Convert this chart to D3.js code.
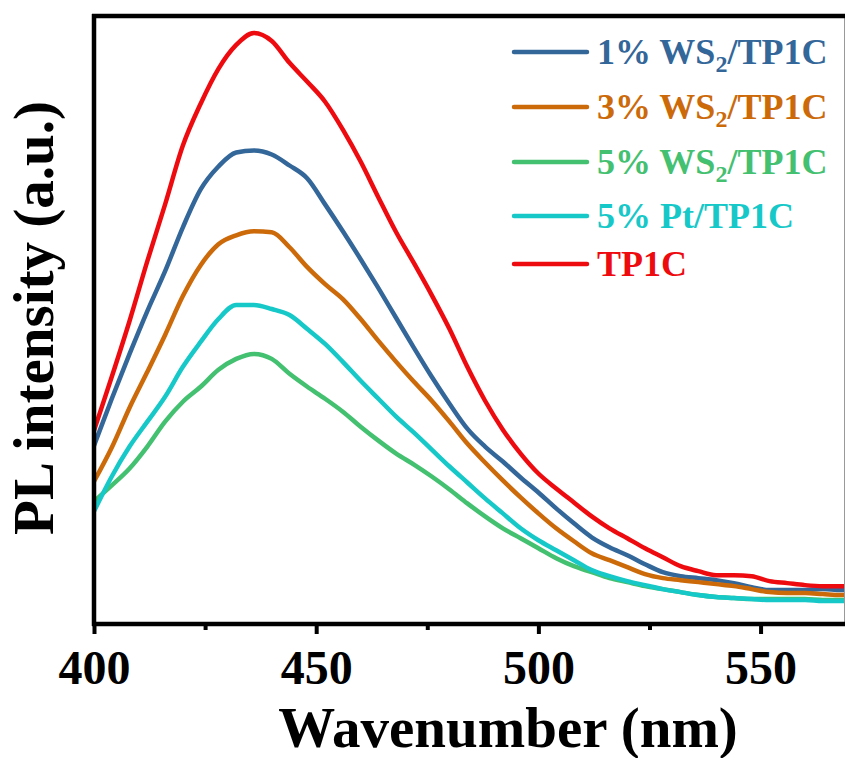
<!DOCTYPE html>
<html>
<head>
<meta charset="utf-8">
<script src="https://cdn.jsdelivr.net/npm/d3@7"></script>
<style>
  html, body { margin: 0; padding: 0; background: #fff; }
  svg { display: block; }
  text { font-family: "Liberation Serif", "Times New Roman", serif; font-weight: bold; }
</style>
</head>
<body>
<div id="chart"></div>
<script>
// wavelength grid (nm) shared by every spectrum
const wavelength = [400,404,408,412,416,420,424,428,432,436,440,444,448,452,456,460,464,468,472,476,480,484,488,492,496,500,504,508,512,516,520,524,528,532,536,540,544,548,552,556,560,564,568,572];

// PL intensity, arbitrary units
const ws2_1 = [179,226,271,314,354,398,436,459,473,475,471,460,447,421,394,366,337,307,277,248,221,196,178,163,147,132,116,101,87,77,69,60,52,48,46,44,41,37,34,34,34,35,34,34];
const ws2_3 = [143,177,217,253,290,329,360,381,390,394,393,378,358,341,326,306,284,263,243,224,203,181,162,144,127,111,96,83,71,64,57,50,46,44,42,40,38,35,32,31,31,30,29,29];
const ws2_5 = [123,139,156,178,203,223,238,255,266,271,266,251,238,226,213,198,184,171,160,148,135,121,108,96,86,76,66,58,52,46,42,38,35,32,29,27,26,25,25,25,25,24,24,24];
const pt_5  = [113,148,178,203,228,258,283,306,320,320,316,310,296,281,263,244,226,208,192,175,158,142,126,111,96,84,74,64,54,48,43,39,35,32,29,27,26,25,24,24,24,23,23,23];
const tp1c  = [194,248,304,364,421,480,522,557,581,593,585,563,544,524,496,464,428,393,362,330,296,258,224,195,171,151,136,122,108,96,86,76,67,58,53,49,49,48,43,41,39,38,38,38];

const seriesNames  = ["1% WS", "3% WS", "5% WS", "5% Pt/TP1C", "TP1C"];
const seriesSub    = ["2", "2", "2", null, null];
const seriesTail   = ["/TP1C", "/TP1C", "/TP1C", "", ""];
const seriesColors = ["#336699", "#cc6a0a", "#43c070", "#16c8c8", "#ee0b10"];
const seriesValues = [ws2_1, ws2_3, ws2_5, pt_5, tp1c];

const xTicks = [400, 450, 500, 550];
const xMinorTicks = [425, 475, 525];

const width = 846, height = 758;
const margin = { top: 16, right: 1, bottom: 134, left: 94 };

const svg = d3.select("#chart").append("svg")
  .attr("width", width)
  .attr("height", height);

const x = d3.scaleLinear()
  .domain([400, 569])
  .range([margin.left, width - margin.right]);

const y = d3.scaleLinear()
  .domain([0, 610])
  .range([height - margin.bottom, margin.top]);

svg.append("clipPath").attr("id", "plotclip")
  .append("rect")
  .attr("x", margin.left)
  .attr("y", margin.top)
  .attr("width", width - margin.right - margin.left)
  .attr("height", height - margin.bottom - margin.top);

const line = d3.line()
  .x(d => x(d[0]))
  .y(d => y(d[1]))
  .curve(d3.curveMonotoneX);

const plot = svg.append("g").attr("clip-path", "url(#plotclip)");

seriesValues.forEach((vals, i) => {
  const pts = wavelength.map((w, k) => [w, vals[k]]);
  plot.append("path")
    .datum(pts)
    .attr("fill", "none")
    .attr("stroke", seriesColors[i])
    .attr("stroke-width", 4.5)
    .attr("stroke-linejoin", "round")
    .attr("stroke-linecap", "round")
    .attr("d", line);
});

// frame
const x0 = margin.left, x1 = width - margin.right;
const y0 = margin.top, y1 = height - margin.bottom;
svg.append("line").attr("x1", x1 - 0.5).attr("x2", x1 - 0.5).attr("y1", y0).attr("y2", y1)
  .attr("stroke", "#999").attr("stroke-width", 1);
svg.append("line").attr("x1", x0 - 2).attr("x2", x1).attr("y1", y0).attr("y2", y0)
  .attr("stroke", "#000").attr("stroke-width", 4.5);
svg.append("line").attr("x1", x0 - 2).attr("x2", x1).attr("y1", y1).attr("y2", y1)
  .attr("stroke", "#000").attr("stroke-width", 4.5);
svg.append("line").attr("x1", x0).attr("x2", x0).attr("y1", y0 - 2).attr("y2", y1 + 2)
  .attr("stroke", "#000").attr("stroke-width", 4.5);

// bottom axis
const xAxis = svg.append("g")
  .attr("transform", `translate(0,${y1 + 2})`)
  .call(d3.axisBottom(x).tickValues(xTicks).tickSize(8).tickPadding(16).tickFormat(d3.format("d")));
xAxis.select(".domain").remove();
xAxis.selectAll(".tick line").attr("stroke", "#000").attr("stroke-width", 4);
xAxis.selectAll(".tick text")
  .attr("fill", "#000")
  .style("font-size", "48px")
  .attr("dy", "0.71em");

const xMinor = svg.append("g")
  .attr("transform", `translate(0,${y1 + 2})`)
  .call(d3.axisBottom(x).tickValues(xMinorTicks).tickSize(4).tickFormat(""));
xMinor.select(".domain").remove();
xMinor.selectAll(".tick line").attr("stroke", "#000").attr("stroke-width", 4);

// axis titles
svg.append("text")
  .attr("x", 508)
  .attr("y", 747)
  .attr("text-anchor", "middle")
  .style("font-size", "57px")
  .text("Wavenumber (nm)");

svg.append("text")
  .attr("transform", "translate(53,318) rotate(-90)")
  .attr("text-anchor", "middle")
  .style("font-size", "57px")
  .text("PL intensity (a.u.)");

// legend
const legendY = [52, 107, 162, 216, 264];
const legend = svg.append("g");
seriesNames.forEach((name, i) => {
  const g = legend.append("g").attr("transform", `translate(0,${legendY[i]})`);
  g.append("line")
    .attr("x1", 514).attr("x2", 587)
    .attr("stroke", seriesColors[i])
    .attr("stroke-width", 4.5)
    .attr("stroke-linecap", "round");
  const t = g.append("text")
    .attr("x", 597)
    .attr("y", 12)
    .attr("fill", seriesColors[i])
    .style("font-size", "36px");
  t.append("tspan").text(name);
  if (seriesSub[i]) {
    t.append("tspan").attr("dy", 8).style("font-size", "24px").text(seriesSub[i]);
    t.append("tspan").attr("dy", -8).text(seriesTail[i]);
  }
});
</script>
</body>
</html>
